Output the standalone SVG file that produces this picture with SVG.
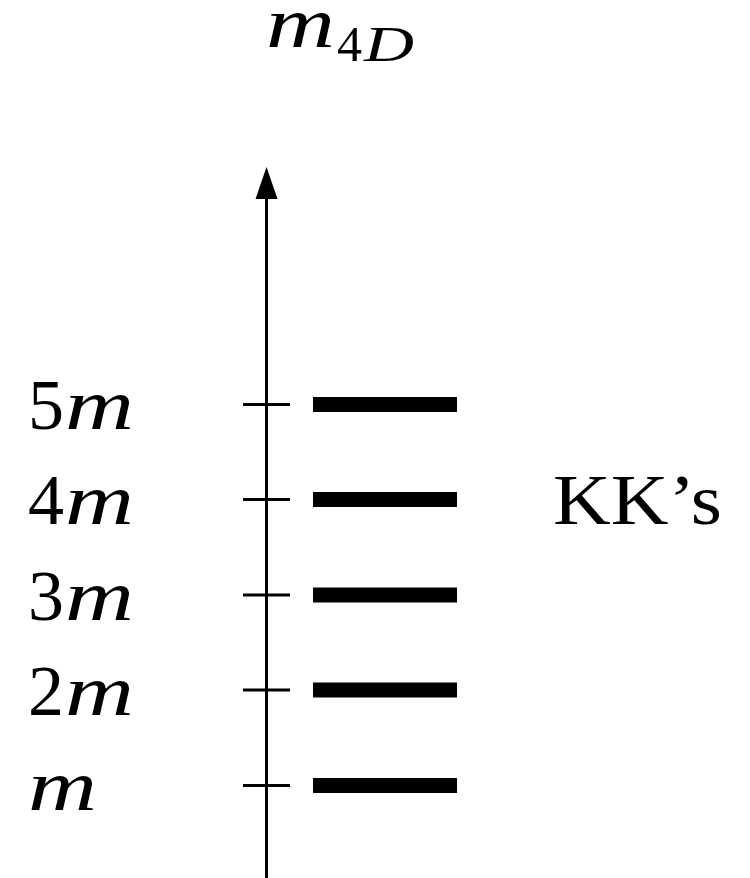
<svg xmlns="http://www.w3.org/2000/svg" width="750" height="878" viewBox="0 0 750 878">
<style>
.lbl{font-family:"Liberation Serif","DejaVu Serif",serif;font-size:72px;fill:#000}
.it{font-style:italic}
.sub{font-size:50px}
.ax{stroke:#000;stroke-width:3}
.bar{fill:#000}
</style>
<g id="connectors">
<line x1="266.5" y1="878" x2="266.5" y2="196" class="ax"/>
<path d="M266.5,167 L277.5,199 L255.5,199 Z" fill="#000"/>
</g>
<g id="title">
<text x="266" y="47" class="lbl it" font-size="68" textLength="69" lengthAdjust="spacingAndGlyphs">m</text>
<text x="337" y="61" class="lbl sub">4</text>
<text x="364" y="61" class="lbl sub it" textLength="50" lengthAdjust="spacingAndGlyphs">D</text>
</g>
<g id="level5"><line x1="243" y1="404.5" x2="290" y2="404.5" class="ax"/><rect x="313" y="397" width="144" height="15" class="bar"/><text x="28" y="429" class="lbl">5</text><text x="65" y="429" class="lbl it" textLength="69" lengthAdjust="spacingAndGlyphs">m</text></g>
<g id="level4"><line x1="243" y1="499.5" x2="290" y2="499.5" class="ax"/><rect x="313" y="492" width="144" height="15" class="bar"/><text x="28" y="524" class="lbl">4</text><text x="65" y="524" class="lbl it" textLength="69" lengthAdjust="spacingAndGlyphs">m</text></g>
<g id="level3"><line x1="243" y1="595" x2="290" y2="595" class="ax"/><rect x="313" y="587.5" width="144" height="15" class="bar"/><text x="28" y="619.5" class="lbl">3</text><text x="65" y="619.5" class="lbl it" textLength="69" lengthAdjust="spacingAndGlyphs">m</text></g>
<g id="level2"><line x1="243" y1="690" x2="290" y2="690" class="ax"/><rect x="313" y="682.5" width="144" height="15" class="bar"/><text x="28" y="715" class="lbl">2</text><text x="65" y="715" class="lbl it" textLength="69" lengthAdjust="spacingAndGlyphs">m</text></g>
<g id="level1"><line x1="243" y1="785.5" x2="290" y2="785.5" class="ax"/><rect x="313" y="778" width="144" height="15" class="bar"/><text x="28" y="810" class="lbl it" textLength="69" lengthAdjust="spacingAndGlyphs">m</text></g>
<g id="kk"><text x="553" y="524" class="lbl" font-size="74" textLength="169" lengthAdjust="spacingAndGlyphs">KK’s</text></g>
</svg>
